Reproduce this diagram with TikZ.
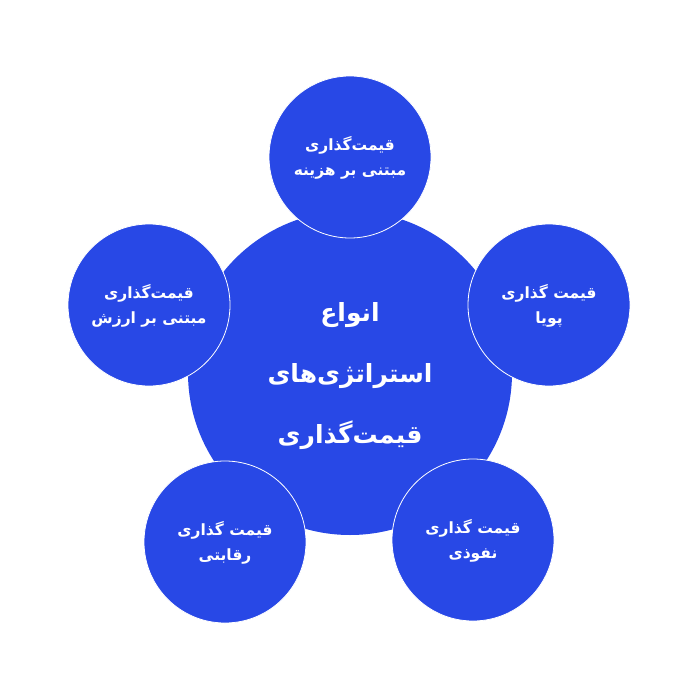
\documentclass[tikz,border=0pt]{standalone}
\usepackage{fontspec}
\TeXXeTstate=1
\newfontfamily\arabicfont[Script=Arabic]{DejaVu Sans}
\definecolor{blu}{RGB}{40,72,230}
\tikzset{
  bigc/.style={circle, fill=blu, minimum size=324pt, inner sep=0pt},
  smallc/.style={circle, fill=blu, draw=white, line width=0.8pt, minimum size=162pt, inner sep=0pt},
  smalltxt/.style={text=white, font=\arabicfont\bfseries\fontsize{15.5}{25}\selectfont, align=center},
  bigtxt/.style={text=white, font=\arabicfont\bfseries\fontsize{25}{61}\selectfont, align=center}
}
\begin{document}
\begin{tikzpicture}[x=1pt,y=-1pt]
\useasboundingbox (0,0) rectangle (700,700);
\node[bigc] (center) at (350,373) {};
\node[bigtxt] (ctext) at (350,376) {\beginR انواع\endR\\\beginR استراتژی‌های\endR\\\beginR قیمت‌گذاری\endR};
\node[smallc] (top) at (350,157) {};
\node[smalltxt] (ttop) at (350,158) {\beginR قیمت‌گذاری\endR\\\beginR مبتنی بر هزینه\endR};
\node[smallc] (left) at (149,305) {};
\node[smalltxt] (tleft) at (149,306) {\beginR قیمت‌گذاری\endR\\\beginR مبتنی بر ارزش\endR};
\node[smallc] (right) at (549,305) {};
\node[smalltxt] (tright) at (549,306) {\beginR قیمت گذاری\endR\\\beginR پویا\endR};
\node[smallc] (bl) at (225,542) {};
\node[smalltxt] (tbl) at (225,543) {\beginR قیمت گذاری\endR\\\beginR رقابتی\endR};
\node[smallc] (br) at (473,540) {};
\node[smalltxt] (tbr) at (473,541) {\beginR قیمت گذاری\endR\\\beginR نفوذی\endR};
\end{tikzpicture}
\end{document}
